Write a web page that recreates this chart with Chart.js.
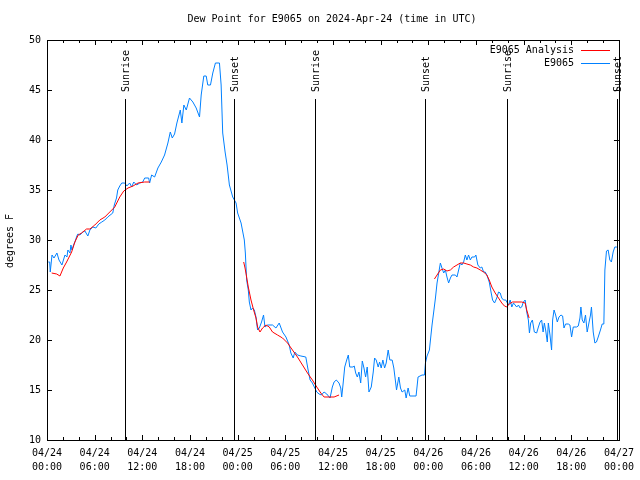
<!DOCTYPE html>
<html>
<head>
<meta charset="utf-8">
<script src="https://cdn.jsdelivr.net/npm/chart.js@4/dist/chart.umd.min.js"></script>
<style>
  html, body { margin: 0; padding: 0; background: #fff; }
</style>
</head>
<body>
<canvas id="myChart" width="640" height="480"></canvas>
<script>
// hours since 04/24 00:00 UTC
const obsHours = [
  0.16, 0.34, 0.41, 0.63, 0.88, 1.25, 1.51, 1.88, 2.26, 2.51, 2.63, 2.89, 3.01, 3.14, 3.39, 3.51,
  3.76, 3.89, 4.14, 4.52, 4.77, 5.14, 5.40, 5.77, 6.15, 6.52, 6.90, 7.28, 7.65, 8.28, 8.47, 8.75,
  8.91, 9.16, 9.41, 9.79, 10.04, 10.41, 10.66, 10.92, 11.29, 11.67, 12.05, 12.30, 12.80, 12.92, 13.17, 13.55,
  13.96, 14.39, 14.80, 15.22, 15.52, 15.77, 16.06, 16.35, 16.78, 16.98, 17.23, 17.53, 17.94, 18.36, 18.78, 19.20,
  19.41, 19.74, 20.04, 20.24, 20.58, 20.87, 21.20, 21.71, 21.92, 22.12, 22.42, 22.67, 22.96, 23.38, 23.80, 24.00,
  24.43, 24.84, 24.97, 25.13, 25.34, 25.47, 25.68, 25.88, 26.10, 26.31, 26.51, 26.73, 27.01, 27.26, 27.44, 27.77,
  28.39, 28.82, 29.23, 29.65, 30.08, 30.49, 30.70, 30.99, 31.20, 31.53, 31.96, 32.58, 32.87, 33.12, 33.41, 33.71,
  33.96, 34.25, 34.54, 34.88, 35.22, 35.63, 35.92, 36.14, 36.42, 36.76, 36.98, 37.10, 37.26, 37.48, 37.73, 37.93,
  38.11, 38.52, 38.68, 38.86, 39.06, 39.27, 39.49, 39.69, 39.90, 40.11, 40.31, 40.53, 40.82, 41.07, 41.24, 41.44,
  41.69, 41.87, 42.07, 42.28, 42.50, 42.70, 42.95, 43.16, 43.45, 43.66, 43.88, 44.00, 44.29, 44.50, 44.70, 45.04,
  45.21, 45.46, 45.67, 46.46, 46.71, 47.21, 47.52, 47.64, 47.84, 48.14, 48.27, 48.47, 48.68, 48.90, 49.10, 49.31,
  49.52, 49.72, 49.94, 50.15, 50.35, 50.56, 50.78, 50.98, 51.41, 51.61, 51.82, 52.03, 52.23, 52.45, 52.66, 52.86,
  53.07, 53.29, 53.49, 53.83, 53.99, 54.24, 54.54, 54.74, 54.96, 55.17, 55.37, 55.67, 55.92, 56.09, 56.34, 56.62,
  56.84, 57.05, 57.25, 57.47, 57.75, 58.09, 58.31, 58.51, 58.72, 58.93, 59.13, 59.35, 59.56, 59.76, 59.97, 60.19,
  60.39, 60.60, 60.73, 60.89, 61.10, 61.35, 61.64, 61.86, 62.07, 62.27, 62.45, 62.61, 62.77, 62.98, 63.11, 63.32,
  63.52, 63.65, 63.83, 64.03, 64.24, 64.45, 64.70, 64.91, 65.08, 65.28, 65.62, 65.83, 66.04, 66.25, 66.66, 66.88,
  67.09, 67.21, 67.38, 67.59, 67.79, 68.00, 68.22, 68.42, 68.54, 68.76, 68.97, 69.17, 69.39, 69.67, 69.89, 70.10,
  70.23, 70.43, 70.64, 70.85, 71.05, 71.27, 71.48, 71.68, 71.81
];
const obsDewPoint = [
  27.8, 27.8, 26.8, 28.5, 28.2, 28.7, 28.0, 27.5, 28.5, 28.3, 29.0, 28.7, 29.5, 29.0, 29.6, 29.8,
  30.4, 30.6, 30.5, 30.8, 30.9, 30.4, 31.0, 31.3, 31.2, 31.6, 31.8, 32.0, 32.3, 32.7, 33.5, 34.2,
  35.0, 35.4, 35.7, 35.7, 35.4, 35.7, 35.3, 35.8, 35.5, 35.7, 35.8, 36.2, 36.2, 35.7, 36.5, 36.3,
  37.2, 37.8, 38.5, 39.7, 40.8, 40.2, 40.6, 41.7, 43.0, 41.7, 43.5, 43.0, 44.2, 43.8, 43.2, 42.3,
  44.5, 46.4, 46.4, 45.5, 45.5, 46.7, 47.7, 47.7, 45.5, 40.7, 38.8, 37.5, 35.5, 34.3, 33.7, 32.7,
  31.7, 30.0, 28.7, 26.0, 25.0, 23.8, 23.0, 23.2, 23.0, 22.3, 21.0, 21.2, 21.8, 22.5, 21.3, 21.5,
  21.5, 21.2, 21.7, 20.8, 20.3, 19.5, 18.7, 18.2, 18.8, 18.5, 18.4, 18.3, 17.0, 16.0, 15.7, 15.2,
  14.8, 14.6, 14.5, 14.8, 14.6, 14.2, 15.3, 15.8, 16.0, 15.7, 15.2, 14.3, 15.5, 17.3, 18.0, 18.5,
  17.3, 17.3, 17.4, 16.7, 16.3, 16.8, 15.7, 17.9, 17.2, 16.3, 17.3, 14.8, 15.3, 16.8, 18.2, 18.0,
  17.3, 17.8, 17.2, 18.0, 17.2, 17.7, 19.0, 18.0, 18.0, 17.2, 15.8, 15.0, 16.3, 15.2, 14.8, 15.0,
  14.2, 15.2, 14.4, 14.4, 16.3, 16.5, 16.5, 17.7, 18.4, 19.0, 20.0, 21.5, 22.8, 24.2, 25.7, 26.7,
  27.7, 27.2, 26.7, 27.0, 26.3, 25.7, 26.2, 26.5, 26.5, 26.3, 27.0, 27.7, 27.5, 27.8, 28.5, 28.0,
  28.5, 28.0, 28.3, 28.3, 28.5, 27.5, 27.2, 27.3, 26.8, 26.8, 26.5, 25.8, 24.7, 24.0, 23.7, 24.2,
  24.8, 24.7, 24.2, 24.0, 24.0, 23.5, 24.0, 23.3, 23.7, 23.5, 23.3, 23.5, 23.2, 23.3, 23.8, 24.0,
  22.8, 22.0, 20.7, 21.7, 22.0, 20.8, 20.7, 21.3, 21.8, 22.0, 20.8, 21.7, 21.0, 19.8, 21.7, 20.5,
  19.0, 22.0, 23.0, 22.5, 21.8, 22.3, 22.5, 22.4, 21.2, 21.6, 21.6, 21.5, 20.3, 21.3, 21.3, 21.4,
  22.2, 23.3, 22.0, 21.7, 22.5, 20.8, 21.7, 22.5, 23.3, 20.8, 19.7, 19.8, 20.3, 21.0, 21.6, 21.6,
  27.0, 28.9, 29.0, 28.0, 27.8, 28.8, 29.3, 29.3, 29.2
];

// analysis curve (null = gap)
const anaHours = [
  0.59, 1.22, 1.63, 2.05, 2.47, 3.10, 3.51, 3.93, 4.35, 4.98, 5.40, 6.02, 6.65, 7.28, 7.90, 8.53,
  9.16, 9.66, 10.20, 10.83, 11.46, 12.30, 12.92, 18.0,
  24.76, 24.93, 25.13, 25.34, 25.68, 26.01, 26.31, 26.51, 26.81, 27.14, 27.57, 27.98, 28.39, 29.02, 29.65, 30.28,
  30.90, 31.53, 32.16, 32.79, 33.41, 33.96, 34.47, 34.88, 36.14, 36.76, 42.0,
  48.77, 49.10, 49.52, 49.94, 50.35, 50.78, 51.19, 51.61, 52.03, 52.45, 52.86, 53.29, 53.70, 54.12, 54.54, 54.96,
  55.37, 55.67, 56.00, 56.42, 56.84, 57.25, 57.59, 57.88, 58.18, 58.59, 59.76, 60.19, 60.39, 60.69
];
const anaDewPoint = [
  26.7, 26.6, 26.4, 27.2, 27.8, 28.8, 29.8, 30.5, 30.7, 31.1, 31.1, 31.5, 32.0, 32.3, 32.8, 33.3,
  34.3, 34.9, 35.2, 35.4, 35.7, 35.8, 35.8, null,
  27.8, 27.2, 26.3, 25.3, 24.0, 23.0, 22.2, 21.3, 20.8, 21.2, 21.5, 21.3, 20.8, 20.5, 20.2, 19.7,
  19.0, 18.3, 17.5, 16.7, 16.0, 15.3, 14.7, 14.3, 14.3, 14.5, null,
  26.1, 26.5, 27.0, 27.1, 26.9, 27.0, 27.3, 27.5, 27.7, 27.7, 27.6, 27.5, 27.3, 27.2, 27.0, 26.8,
  26.5, 26.0, 25.3, 24.7, 24.2, 23.7, 23.4, 23.3, 23.6, 23.8, 23.8, 23.7, 23.0, 22.2
];

const sunHours = [9.82, 23.5, 33.8, 47.6, 57.9, 71.7];
const sunLabels = ["Sunrise", "Sunset", "Sunrise", "Sunset", "Sunrise", "Sunset"];

const tickDates = ["04/24", "04/24", "04/24", "04/24", "04/25", "04/25", "04/25", "04/25",
                   "04/26", "04/26", "04/26", "04/26", "04/27"];
const tickTimes = ["00:00", "06:00", "12:00", "18:00", "00:00", "06:00", "12:00", "18:00",
                   "00:00", "06:00", "12:00", "18:00", "00:00"];

const FONT = "10px 'DejaVu Sans Mono', monospace";
const BLUE = "rgb(0,128,255)";
const RED = "rgb(255,0,0)";

const gnuplotFrame = {
  id: "gnuplotFrame",
  afterDraw(chart) {
    const { ctx, chartArea: a, scales } = chart;
    const x = scales.x, y = scales.y;
    ctx.save();
    ctx.strokeStyle = "#000";
    ctx.lineWidth = 1;

    // ticks, pointing inward on all four sides
    ctx.beginPath();
    for (let h = 0; h <= 72; h += 2) {
      const px = Math.round(x.getPixelForValue(h)) + 0.5;
      const len = h % 6 === 0 ? 5 : 3;
      ctx.moveTo(px, a.bottom); ctx.lineTo(px, a.bottom - len);
      ctx.moveTo(px, a.top); ctx.lineTo(px, a.top + len);
    }
    for (let v = 10; v <= 50; v += 5) {
      const py = Math.round(y.getPixelForValue(v)) + 0.5;
      ctx.moveTo(a.left, py); ctx.lineTo(a.left + 5, py);
      ctx.moveTo(a.right, py); ctx.lineTo(a.right - 5, py);
    }
    ctx.stroke();

    // frame
    ctx.strokeRect(Math.round(a.left) + 0.5, Math.round(a.top) + 0.5,
      Math.round(a.right - a.left), Math.round(a.bottom - a.top));

    // sunrise / sunset markers
    ctx.font = FONT;
    ctx.fillStyle = "#000";
    sunHours.forEach((h, i) => {
      const px = Math.round(x.getPixelForValue(h)) + 0.5;
      ctx.beginPath();
      ctx.moveTo(px, a.top + 59);
      ctx.lineTo(px, a.bottom);
      ctx.stroke();
      ctx.save();
      ctx.translate(px + 1, a.top + 52);
      ctx.rotate(-Math.PI / 2);
      ctx.textAlign = "left";
      ctx.textBaseline = "middle";
      ctx.fillText(sunLabels[i], 0, 0);
      ctx.restore();
    });

    // legend
    const names = ["E9065 Analysis", "E9065"];
    const colors = [RED, BLUE];
    ctx.textAlign = "right";
    ctx.textBaseline = "middle";
    names.forEach((n, i) => {
      const ty = 50 + i * 13;
      ctx.fillStyle = "#000";
      ctx.fillText(n, 574, ty);
      ctx.strokeStyle = colors[i];
      ctx.beginPath();
      ctx.moveTo(581, ty + 0.5);
      ctx.lineTo(610, ty + 0.5);
      ctx.stroke();
    });

    // title and y axis title
    ctx.fillStyle = "#000";
    ctx.textAlign = "center";
    ctx.fillText("Dew Point for E9065 on 2024-Apr-24 (time in UTC)", 332, 19);
    ctx.save();
    ctx.translate(10, 241);
    ctx.rotate(-Math.PI / 2);
    ctx.fillText("degrees F", 0, 0);
    ctx.restore();
    ctx.restore();
  }
};

new Chart(document.getElementById("myChart"), {
  type: "line",
  data: {
    datasets: [
      {
        label: "E9065 Analysis",
        data: anaHours.map((h, i) => ({ x: h, y: anaDewPoint[i] })),
        borderColor: RED,
        borderWidth: 1,
        pointRadius: 0,
        spanGaps: false,
        tension: 0,
        order: 1,
      },
      {
        label: "E9065",
        data: obsHours.map((h, i) => ({ x: h, y: obsDewPoint[i] })),
        borderColor: BLUE,
        borderWidth: 1,
        pointRadius: 0,
        tension: 0,
        order: 2,
      },
    ],
  },
  options: {
    responsive: false,
    animation: false,
    devicePixelRatio: 1,
    layout: { padding: { top: 40, right: 19, left: 0, bottom: 0 } },
    plugins: { legend: { display: false }, tooltip: { enabled: false } },
    scales: {
      x: {
        type: "linear",
        min: 0,
        max: 72,
        grid: { display: false, drawTicks: false },
        border: { display: false },
        afterFit: (s) => { s.height = 40; },
        ticks: {
          stepSize: 6,
          autoSkip: false,
          maxRotation: 0,
          padding: 6,
          color: "#000",
          font: { family: "'DejaVu Sans Mono', monospace", size: 10, lineHeight: 1.4 },
          callback: (v) => [tickDates[v / 6], tickTimes[v / 6]],
        },
      },
      y: {
        min: 10,
        max: 50,
        grid: { display: false, drawTicks: false },
        border: { display: false },
        afterFit: (s) => { s.width = 47; },
        ticks: {
          stepSize: 5,
          padding: 6,
          color: "#000",
          font: { family: "'DejaVu Sans Mono', monospace", size: 10 },
        },
      },
    },
  },
  plugins: [gnuplotFrame],
});
</script>
</body>
</html>
